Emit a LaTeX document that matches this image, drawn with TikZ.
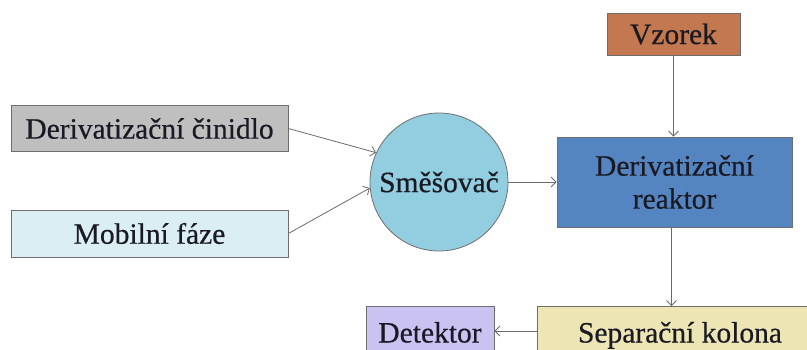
\documentclass[tikz,border=0pt]{standalone}
\usepackage{fontspec}
\setmainfont{Liberation Serif}
% slightly heavier strokes for the labels
\newfontfamily\labelfont{Liberation Serif}[FakeBold=0.5]
\usetikzlibrary{arrows.meta}

\definecolor{boxline}{HTML}{6E6E6E}
\definecolor{flowline}{HTML}{6A6A6A}
\definecolor{txt}{HTML}{1A1A24}
\definecolor{reagentfill}{HTML}{BFBFBF}
\definecolor{mobilefill}{HTML}{DAEEF3}
\definecolor{mixerfill}{HTML}{93CEE0}
\definecolor{samplefill}{HTML}{C3784F}
\definecolor{reactorfill}{HTML}{5585C0}
\definecolor{columnfill}{HTML}{EEE5B5}
\definecolor{detectorfill}{HTML}{CAC3F2}

\tikzset{
  unit/.style={draw=boxline, line width=0.8pt, text=txt, inner sep=0pt,
    font=\labelfont\fontsize{29.5}{33}\selectfont, align=center},
  blockbox/.style={unit, rectangle},
  lowbox/.style={blockbox, text height=20.5pt, text depth=6.5pt},
  flow/.style={draw=flowline, line width=0.8pt,
    -{Straight Barb[length=5pt,width=10pt,line width=0.8pt]}},
}

\begin{document}
\begin{tikzpicture}[x=1pt,y=-1pt]
  \clip (0,0) rectangle (807,349);

  % inputs
  \node[blockbox, fill=reagentfill, minimum width=277pt, minimum height=46pt]
    (reagent) at (149.5,128.5) {Derivatizační činidlo};
  \node[blockbox, fill=mobilefill, minimum width=277pt, minimum height=47pt]
    (mobile) at (149.5,233.5) {Mobilní fáze};

  % mixer
  \node[unit, circle, fill=mixerfill, minimum size=138pt]
    (mixer) at (439,182) {Směšovač};

  % sample and reactor
  \node[blockbox, fill=samplefill, minimum width=133pt, minimum height=42pt]
    (sample) at (673.5,34) {Vzorek};
  \node[blockbox, fill=reactorfill, minimum width=235pt, minimum height=90pt]
    (reactor) at (674.5,182) {Derivatizační\\reaktor};

  % separation and detection (run past the lower edge)
  \node[lowbox, fill=columnfill, minimum width=286pt, minimum height=58pt]
    (column) at (680,335.5) {Separační kolona};
  \node[lowbox, fill=detectorfill, minimum width=128pt, minimum height=58pt]
    (detector) at (430,335.5) {Detektor};

  % flow connections
  \draw[flow] (reagent.east) -- (mixer.155);
  \draw[flow] (mobile.east) -- (mixer.185);
  \draw[flow] (mixer.east) -- (reactor.west);
  \draw[flow] (sample.south) -- (sample.south |- reactor.north);
  \draw[flow] ([xshift=-3pt]reactor.south) -- ([xshift=-3pt]reactor.south |- column.north);
  \draw[flow] ([yshift=4.5pt]column.west) -- ([yshift=4.5pt]detector.east);
\end{tikzpicture}
\end{document}
